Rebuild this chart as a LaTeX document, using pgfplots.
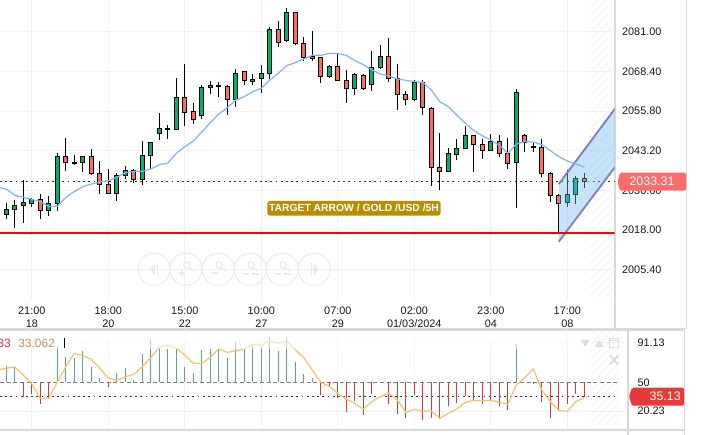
\documentclass[border=0pt]{standalone}
\usepackage{pgfplots}
\usepackage{pgfplotstable}
\usepackage{fontspec}
\setmainfont{Liberation Sans}
\pgfplotsset{compat=1.18}
\usetikzlibrary{patterns.meta}

\definecolor{candleup}{HTML}{00B16A}
\definecolor{candledn}{HTML}{FF6A5F}
\definecolor{gridc}{HTML}{F1F1F1}
\definecolor{frame}{HTML}{D9D9D9}
\definecolor{hatch}{HTML}{F4F4F4}
\definecolor{ma}{HTML}{7FB2FF}
\definecolor{rsi}{HTML}{FFBB66}
\definecolor{rsitext}{HTML}{C89450}
\definecolor{histup}{HTML}{5FA87E}
\definecolor{histdn}{HTML}{E8353A}
\definecolor{chan}{HTML}{6FBAF0}
\definecolor{chanl}{HTML}{8080C0}
\definecolor{tagc}{HTML}{BE8C00}
\definecolor{pricetag}{HTML}{FF6B6B}
\definecolor{rsitag}{HTML}{E83A3A}
\definecolor{faint}{HTML}{EAEAEA}
\definecolor{btn}{HTML}{DEDEDE}

% i hi lo top bot up
\pgfplotstableread{
i hi lo top bot up
0 2026.47 2021.60 2024.56 2022.87 1
1 2027.53 2018.74 2025.84 2024.56 1
2 2033.78 2020.33 2026.79 2025.84 1
3 2028.06 2025.41 2027.74 2026.47 1
4 2029.33 2021.60 2027.74 2024.25 0
5 2028.69 2022.55 2026.47 2024.25 1
6 2042.36 2024.14 2041.40 2026.47 1
7 2047.12 2036.85 2041.40 2039.50 0
8 2041.72 2038.76 2039.50 2039.07 1
9 2041.40 2036.53 2041.40 2039.50 1
10 2043.63 2035.58 2041.40 2035.90 0
11 2039.81 2029.54 2036.00 2032.51 0
12 2037.27 2029.54 2032.51 2029.65 0
13 2036.00 2027.32 2035.37 2029.65 1
14 2038.23 2034.31 2036.96 2035.37 1
15 2037.27 2033.04 2036.96 2034.10 0
16 2046.17 2032.40 2041.72 2034.10 1
17 2045.85 2037.27 2045.85 2041.72 1
18 2055.06 2046.70 2050.30 2048.71 1
19 2051.25 2047.02 2050.30 2049.98 1
20 2066.18 2049.66 2060.15 2049.98 1
21 2070.63 2051.04 2060.15 2055.38 0
22 2058.24 2051.78 2055.70 2053.16 0
23 2063.96 2053.37 2063.32 2054.43 1
24 2065.23 2061.31 2063.96 2063.32 1
25 2064.91 2060.36 2063.96 2063.64 0
26 2063.96 2054.64 2063.64 2059.51 0
27 2069.04 2057.18 2067.77 2059.51 1
28 2068.41 2063.96 2068.41 2065.55 0
29 2067.45 2063.96 2065.87 2065.23 1
30 2070.31 2061.42 2067.77 2066.18 1
31 2082.39 2066.08 2081.75 2067.77 1
32 2084.29 2076.03 2081.75 2077.62 0
33 2088.42 2077.62 2087.15 2078.26 1
34 2087.36 2076.67 2087.15 2077.30 0
35 2079.21 2071.58 2077.30 2072.86 0
36 2081.12 2071.58 2073.17 2072.54 0
37 2072.86 2064.59 2072.86 2066.82 0
38 2070.31 2066.18 2070.00 2066.82 1
39 2074.13 2065.55 2070.00 2065.55 0
40 2068.73 2058.24 2065.55 2063.01 0
41 2067.98 2060.99 2067.45 2063.01 1
42 2067.45 2062.37 2067.14 2063.01 0
43 2074.76 2062.27 2069.68 2064.28 1
44 2076.67 2069.04 2073.17 2069.68 1
45 2078.89 2064.91 2073.17 2066.18 0
46 2070.63 2056.02 2066.18 2061.10 0
47 2062.05 2057.82 2061.10 2059.51 0
48 2065.55 2059.09 2064.91 2059.51 1
49 2065.55 2054.43 2064.91 2056.97 0
50 2057.18 2031.87 2056.65 2037.91 0
51 2048.71 2030.60 2037.91 2036.64 0
52 2043.94 2036.64 2042.36 2036.64 1
53 2046.80 2040.13 2043.94 2042.04 1
54 2050.93 2043.63 2048.08 2043.94 1
55 2048.08 2036.32 2048.08 2045.22 0
56 2046.80 2040.66 2045.22 2043.31 0
57 2048.39 2042.99 2046.17 2043.31 1
58 2048.08 2041.09 2046.17 2042.36 0
59 2047.12 2037.27 2042.36 2039.18 0
60 2062.69 2024.88 2061.74 2039.50 1
61 2048.39 2042.89 2048.08 2045.85 0
62 2045.53 2042.89 2044.58 2044.26 1
63 2046.80 2034.73 2044.26 2036.00 0
64 2036.32 2026.79 2036.00 2029.01 0
65 2029.33 2016.94 2029.01 2026.47 0
66 2037.06 2025.41 2029.33 2026.79 1
67 2035.05 2026.15 2034.41 2029.33 1
68 2036.00 2031.24 2034.41 2033.46 0
}\candles

\pgfplotstableread{
i v
0 66.80
1 66.11
6 87.74
7 75.72
8 74.69
9 82.25
10 65.42
11 54.09
13 59.24
14 64.39
15 52.04
16 78.81
17 94.60
18 84.99
19 83.96
20 83.96
21 65.77
22 59.24
23 82.93
24 83.96
25 83.96
26 74.69
27 91.86
28 84.99
29 88.42
30 86.71
31 97.01
32 82.25
33 96.32
34 70.57
35 58.21
36 54.78
60 89.11
}\histgreen

\pgfplotstableread{
i v
2 35.21
3 37.62
4 27.32
5 33.50
12 44.83
37 36.93
38 45.51
39 33.50
40 19.76
41 30.75
42 16.33
43 38.30
45 27.32
46 17.02
47 12.90
48 36.93
49 10.84
50 13.59
51 12.90
52 25.26
53 28.35
54 36.24
55 30.75
56 27.32
57 30.75
58 25.26
59 21.48
62 47.92
63 30.06
64 12.90
65 21.48
66 27.32
67 38.30
68 35.21
}\histred

\pgfplotsset{
  base/.style={
    scale only axis, clip=true,
    xmin=-0.741,
    tick style={draw=none},
    axis line style={draw=none},
    tick label style={font=\fontsize{8.15}{9.7}\selectfont, text=black!90},
    /pgf/number format/assume math mode=true,
    /pgf/number format/.cd, fixed, fixed zerofill, precision=2, 1000 sep={},
  },
  pricex/.style={base, at={(0,100.5pt)}, anchor=south west,
    width=460.875pt, height=225.75pt,
    xmax=71.55, ymin=1995.44, ymax=2091.07},
  rsix/.style={base, at={(0,4.5pt)}, anchor=south west,
    width=471pt, height=74.25pt,
    xmax=73.14, ymin=1.9, ymax=103.87},
}

\begin{document}
\begin{tikzpicture}
\path[use as bounding box] (0,0) rectangle (533.25pt,326.25pt);

\begin{scope}[x=0.75pt,y=-0.75pt,shift={(0,326.25pt)}]
  \fill[pattern={Lines[angle=45,distance=4pt,line width=1pt]}, pattern color=hatch] (590,0) rectangle (614,301);
  \fill[pattern={Lines[angle=45,distance=4pt,line width=1pt]}, pattern color=hatch] (591,331) rectangle (621,429);
  \draw[frame, line width=1.5pt] (615,0) -- (615,328);
  \draw[frame, line width=0.75pt] (686.5,0) -- (686.5,328);
  \draw[frame, line width=1pt] (0,328.5) -- (686.5,328.5);
  \draw[frame, line width=1.5pt] (0,330) -- (684,330);
  \draw[frame, line width=1.5pt] (0,430) -- (684,430);
  \draw[frame, line width=1.5pt] (627.7,330) -- (627.7,435);
  \draw[frame, line width=0.75pt] (684,330) -- (684,435);
\end{scope}

% candles
\begin{axis}[pricex, ybar stacked, bar width=2.75pt, reverse stacked plots=false,
    xtick={3,12,21,30,39,48,57,66},
    xticklabels={{21:00\\18},{18:00\\20},{15:00\\22},{10:00\\27},{07:00\\29},{02:00\\01/03/2024},{23:00\\04},{17:00\\08}},
    xticklabel style={align=center, yshift=-1pt},
    ytick={2005.4,2018,2030.6,2043.2,2055.8,2068.4,2081},
    yticklabel pos=right,
    yticklabel style={anchor=west, xshift=2.2pt},
    grid=major, major grid style={gridc, line width=0.75pt},
    extra y ticks={2033.31}, extra y tick labels={},
    extra tick style={grid=major, major grid style={black!80, line width=0.45pt, dash pattern=on 1.3pt off 2.6pt}},
    ]
  \addplot[draw=none, fill=none,
    error bars/.cd, y dir=both, y explicit, error mark=none,
    error bar style={draw=black, line width=0.75pt}]
    table[x=i, y=bot, y error plus expr=\thisrow{hi}-\thisrow{bot}, y error minus expr=\thisrow{bot}-\thisrow{lo}] {\candles};
  \addplot[draw=black, line width=0.75pt, fill=candleup]
    table[x=i, y expr=\thisrow{up}*(\thisrow{top}-\thisrow{bot})] {\candles};
  \addplot[draw=black, line width=0.75pt, fill=candledn]
    table[x=i, y expr=(1-\thisrow{up})*(\thisrow{top}-\thisrow{bot})] {\candles};
\end{axis}

% moving average, channel, support line
\begin{axis}[pricex, hide axis]
  \addplot[draw=none, fill=chan, fill opacity=0.4] coordinates
    {(65,2032.61) (71.7,2056.86) (71.7,2038.33) (65,2014.29)} -- cycle;
  \addplot[chanl, line width=1.4pt] coordinates {(65,2032.61) (71.7,2056.86)};
  \addplot[chanl, line width=1.4pt] coordinates {(65,2014.29) (71.7,2038.33)};
  \addplot[ma, line width=0.9pt] coordinates {
    (-1,2031.55) (0,2031.02) (1,2029.01) (2,2028.38) (3,2027.74) (4,2027.00) (5,2025.41) (6,2025.62)
    (7,2028.38) (8,2030.18) (9,2031.77) (10,2032.61) (11,2033.25) (12,2033.67) (13,2034.73) (14,2036.21)
    (15,2036.64) (16,2036.64) (17,2037.38) (18,2038.76) (19,2039.28) (20,2042.36) (21,2044.47) (22,2046.27)
    (23,2049.13) (24,2052.10) (25,2054.85) (26,2056.86) (27,2059.30) (28,2060.36) (29,2061.95) (30,2063.01)
    (31,2065.65) (32,2067.77) (33,2070.21) (34,2071.16) (35,2072.33) (36,2073.49) (37,2073.49) (38,2074.13)
    (39,2074.02) (40,2073.49) (41,2071.80) (42,2070.53) (43,2068.83) (44,2067.56) (45,2066.92) (46,2065.97)
    (47,2065.55) (48,2065.12) (49,2064.91) (50,2062.48) (51,2058.77) (52,2057.18) (53,2054.53) (54,2051.89)
    (55,2049.56) (56,2047.97) (57,2046.59) (58,2044.90) (59,2042.36) (60,2045.32) (61,2046.06) (62,2045.96)
    (63,2045.11) (64,2043.20) (65,2041.30) (66,2039.92) (67,2038.97) (68,2037.91)};
  \addplot[red, line width=1.5pt] coordinates {(-0.741,2017.05) (71.55,2017.05)};
\end{axis}

% lower panel
\begin{axis}[rsix,
    xtick={3,12,21,30,39,48,57,66}, xticklabels={},
    ytick={20.23,91.13}, extra y ticks={50}, extra y tick style={grid=none},
    yticklabel pos=right,
    yticklabel style={anchor=west, xshift=3.6pt, /pgf/number format/precision=2},
    extra y tick labels={50},
    grid=major, major grid style={gridc, line width=0.75pt},
    ]
  \addplot[black!50, line width=0.45pt, dash pattern=on 3pt off 2pt] coordinates {(-0.741,50) (71.8,50)};
  \addplot[black!80, line width=0.45pt, dash pattern=on 1.3pt off 2.6pt] coordinates {(-0.741,35.13) (71.8,35.13)};
  \addplot[draw=none, forget plot,
    error bars/.cd, y dir=minus, y explicit, error mark=none,
    error bar style={draw=histup, line width=0.75pt}]
    table[x=i, y=v, y error minus expr=\thisrow{v}-50] {\histgreen};
  \addplot[draw=none, forget plot,
    error bars/.cd, y dir=plus, y explicit, error mark=none,
    error bar style={draw=histdn, line width=0.75pt}]
    table[x=i, y=v, y error plus expr=50-\thisrow{v}] {\histred};
  \addplot[rsi, line width=0.85pt] coordinates {
    (-1,63.02) (0,64.39) (1,65.77) (2,57.53) (3,48.26) (4,33.50) (5,33.50) (6,50.00) (7,66.11) (8,79.84)
    (9,77.44) (10,73.66) (11,64.39) (12,54.44) (13,51.69) (14,55.81) (15,58.21) (16,66.11) (17,75.38)
    (18,86.02) (19,88.42) (20,84.99) (21,78.13) (22,69.54) (23,69.54) (24,75.72) (25,84.31) (26,80.87)
    (27,82.25) (28,84.31) (29,89.11) (30,88.08) (31,92.54) (32,90.14) (33,92.54) (34,83.28) (35,75.38)
    (36,62.68) (37,50.00) (38,45.86) (39,38.65) (40,32.81) (41,28.35) (42,22.51) (43,30.06) (44,35.21)
    (45,38.65) (46,31.78) (47,19.08) (48,22.17) (49,20.45) (50,20.45) (51,12.90) (52,18.05) (53,22.51)
    (54,29.38) (55,31.44) (56,31.44) (57,31.44) (58,29.38) (59,27.66) (60,47.23) (61,54.78) (62,63.71)
    (63,42.08) (64,30.06) (65,21.14) (66,20.11) (67,30.06) (68,34.18)};
\end{axis}

% tags and chart furniture, in pixels of the picture
\begin{scope}[x=0.75pt,y=-0.75pt,shift={(0,326.25pt)}]
  \fill[white, fill opacity=0.55] (0,331) rectangle (590,349);

  \node[fill=tagc, rounded corners=2pt, text=white, inner sep=0pt,
        minimum width=130pt, minimum height=11pt,
        font=\fontsize{7.75}{9}\bfseries\selectfont] at (354,208.3) {TARGET ARROW / GOLD /USD /5H};

  \fill[pricetag, rounded corners=1pt] (620,172.7) -- (686,172.7) -- (686,190.7) -- (620,190.7) -- (617.5,181.7) -- cycle;
  \node[text=white, font=\fontsize{9.3}{11}\selectfont, inner sep=0pt] at (652,181.7) {2033.31};
  \fill[rsitag, rounded corners=1pt] (632,387.7) -- (684,387.7) -- (684,405.7) -- (632,405.7) -- (629,396.7) -- cycle;
  \node[text=white, font=\fontsize{9.3}{11}\selectfont, inner sep=0pt, anchor=east] at (681,396.7) {35.13};

  \node[text=histdn, font=\fontsize{9}{11}\selectfont, inner sep=0pt, anchor=east] at (11,343) {33};
  \node[text=rsitext, font=\fontsize{9}{11}\selectfont, inner sep=0pt, anchor=west] at (18,343) {33.062};
  \draw[black, line width=0.75pt] (64,338) -- (64,348);

  % panel buttons
  \fill[btn, rounded corners=0.8pt] (580.5,340) -- (590,340) -- (585.3,347) -- cycle;
  \fill[btn, rounded corners=0.8pt] (594.5,347) -- (604,347) -- (599.3,340) -- cycle;
  \draw[btn, line width=0.75pt] (609.5,338.5) rectangle (618.5,347.5);
  \draw[btn, line width=0.75pt] (609.5,340.5) -- (618.5,340.5);
  \draw[btn, line width=1.5pt] (610,355.5) -- (618,364.5) (618,355.5) -- (610,364.5);

  % zoom controls
  \foreach \cx in {154,186,218.3,250.3,282.3,314.3}
    \draw[faint, line width=0.75pt] (\cx,269.3) circle[radius=16];
  \fill[faint] (150,269.3) -- (155,263) -- (155,275.6) -- cycle;
  \draw[faint, line width=0.75pt] (157,263) -- (157,275.6);
  \fill[faint] (318.5,269.3) -- (313.5,263) -- (313.5,275.6) -- cycle;
  \draw[faint, line width=0.75pt] (311.5,263) -- (311.5,275.6);
  \foreach \cx in {186,218.3,250.3,282.3} {
    \draw[faint, line width=0.9pt] (\cx+1,265) circle[radius=3.3];
    \draw[faint, line width=0.9pt] (\cx+3.5,267.5) -- (\cx+7,271);
  }
  \draw[faint, line width=1.2pt] (179,273) -- (185,273) (182,270) -- (182,276);
  \draw[faint, line width=1.2pt] (212,273) -- (218,273);
  \draw[faint, line width=0.9pt] (243,274) -- (249,274) (252,274) -- (258,274);
  \draw[faint, line width=0.9pt] (275,274) -- (281,274) (284,274) -- (290,274);
\end{scope}
\end{tikzpicture}
\end{document}
